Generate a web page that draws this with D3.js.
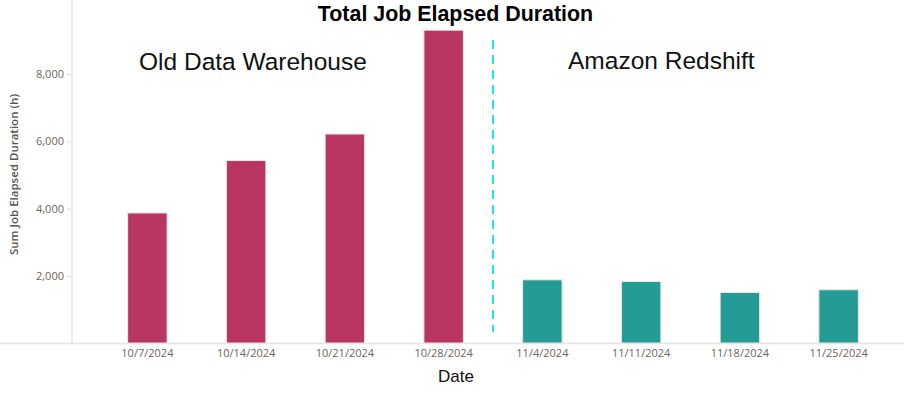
<!DOCTYPE html>
<html><head><meta charset="utf-8">
<script src="https://cdn.jsdelivr.net/npm/d3@7"></script>
<style>body{margin:0;background:#fff}svg{display:block}</style>
</head><body>
<script>
const dates = ["10/7/2024","10/14/2024","10/21/2024","10/28/2024","11/4/2024","11/11/2024","11/18/2024","11/25/2024"];
const durations = [3870, 5430, 6220, 9310, 1880, 1830, 1505, 1585];
const systems = ["Old Data Warehouse","Old Data Warehouse","Old Data Warehouse","Old Data Warehouse","Amazon Redshift","Amazon Redshift","Amazon Redshift","Amazon Redshift"];
const yTicks = [2000, 4000, 6000, 8000];
const colors = {"Old Data Warehouse":"#ba3662","Amazon Redshift":"#259b96"};

const W = 904, H = 396;
const svg = d3.select("body").append("svg").attr("width", W).attr("height", H);

const x = d3.scaleBand().domain(dates).range([98, 888]).paddingInner(0.6).paddingOuter(0.3);
const y = d3.scaleLinear().domain([0, 10000]).range([343, 7]);

// axis lines
svg.append("line").attr("x1",72).attr("x2",72).attr("y1",0).attr("y2",y(0))
  .attr("stroke","#e6e6e6").attr("stroke-width",1.5);
svg.append("line").attr("x1",0).attr("x2",W).attr("y1",y(0)+0.5).attr("y2",y(0)+0.5)
  .attr("stroke","#e3e3e3").attr("stroke-width",1.5);

// y axis
const yAxis = d3.axisLeft(y).tickValues(yTicks).tickFormat(d3.format(",")).tickSize(4).tickPadding(3);
const gy = svg.append("g").attr("transform","translate(71,0)").call(yAxis);
gy.select(".domain").remove();
gy.selectAll(".tick line").attr("stroke","#d8d8d8");
gy.selectAll(".tick text").attr("fill","#6b6560").style("font-family","'Open Sans', sans-serif").style("font-size","11px");

// x axis
const xAxis = d3.axisBottom(x).tickSize(0).tickPadding(6);
const gx = svg.append("g").attr("transform",`translate(0,${y(0)})`).call(xAxis);
gx.select(".domain").remove();
gx.selectAll(".tick text").attr("fill","#6b6560").style("font-family","'Open Sans', sans-serif").style("font-size","11px");

// bars
svg.append("g").selectAll("rect").data(dates).join("rect")
  .attr("x", d => x(d))
  .attr("width", x.bandwidth())
  .attr("y", (d,i) => y(durations[i]))
  .attr("height", (d,i) => y(0) - y(durations[i]))
  .attr("fill", (d,i) => colors[systems[i]])
  .attr("stroke", "#e9e9e9").attr("stroke-width", 1);

// divider
const divX = (x(dates[3]) + x.bandwidth() + x(dates[4])) / 2;
svg.append("line").attr("x1",divX).attr("x2",divX).attr("y1",40).attr("y2",332)
  .attr("stroke","#1ee6f0").attr("stroke-width",2).attr("stroke-dasharray","9,6");

// title
svg.append("text").attr("x",455.5).attr("y",20.5).attr("text-anchor","middle")
  .style("font-family","'Liberation Sans', Arial, sans-serif").style("font-weight","bold").style("font-size","21.4px")
  .attr("fill","#000").text("Total Job Elapsed Duration");

// annotations
svg.append("text").attr("x",139).attr("y",70)
  .style("font-family","'Liberation Sans', Arial, sans-serif").style("font-size","24.5px")
  .attr("fill","#111").text("Old Data Warehouse");
svg.append("text").attr("x",568).attr("y",69)
  .style("font-family","'Liberation Sans', Arial, sans-serif").style("font-size","24.5px")
  .attr("fill","#111").text("Amazon Redshift");

// axis titles
svg.append("text").attr("x",456).attr("y",382).attr("text-anchor","middle")
  .style("font-family","'Liberation Sans', Arial, sans-serif").style("font-size","17px")
  .attr("fill","#111").text("Date");
svg.append("text").attr("transform","translate(17.5,174.5) rotate(-90)").attr("text-anchor","middle")
  .style("font-family","'Open Sans', sans-serif").style("font-size","11.5px").style("font-weight","600")
  .attr("fill","#555").text("Sum Job Elapsed Duration (h)");
</script>
</body></html>
